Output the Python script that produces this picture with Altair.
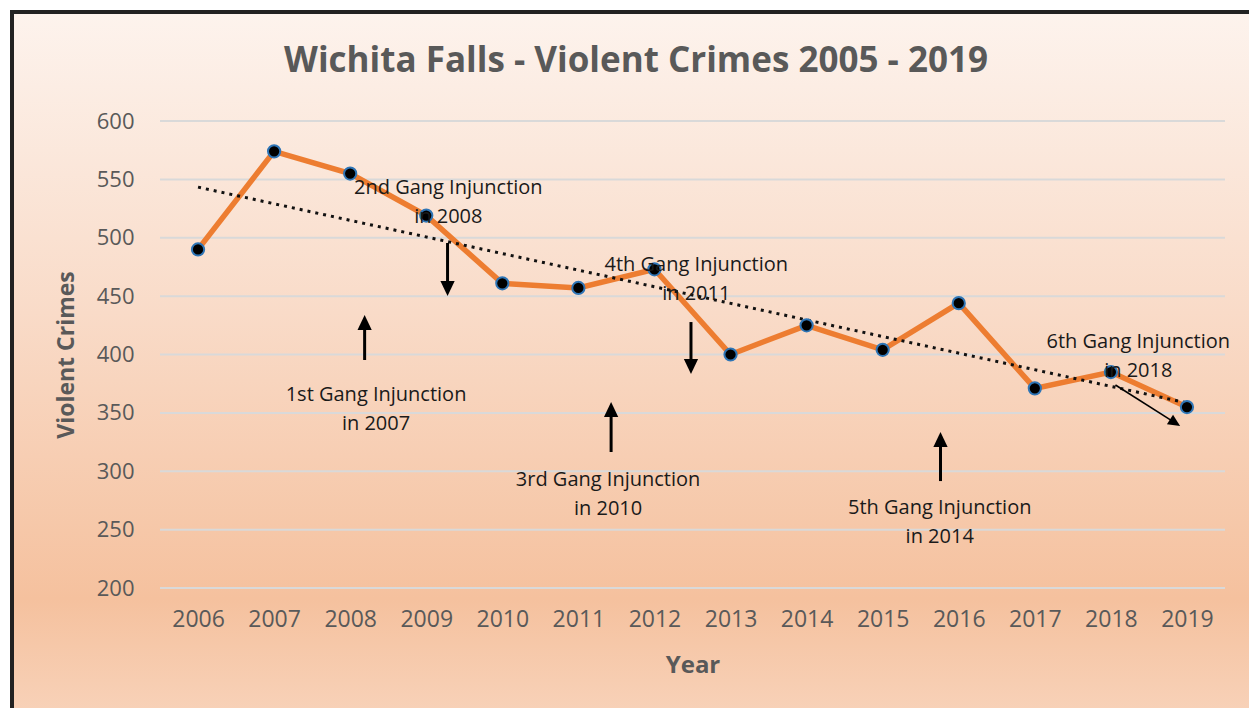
import altair as alt
import pandas as pd
import math

# ---- data ----
years = list(range(2006, 2020))
crimes = [490, 574, 555, 519, 461, 457, 473, 400, 425, 404, 444, 371, 385, 355]
y_ticks = [200, 250, 300, 350, 400, 450, 500, 550, 600]

ann_text = [
    "1st Gang Injunction\nin 2007",
    "2nd Gang Injunction\nin 2008",
    "3rd Gang Injunction\nin 2010",
    "4th Gang Injunction\nin 2011",
    "5th Gang Injunction\nin 2014",
    "6th Gang Injunction\nin 2018",
]
ann_x = [2008.34, 2009.29, 2011.39, 2012.55, 2015.75, 2018.36]
ann_y = [365.3, 542.6, 292.5, 476.7, 268.5, 410.7]

arrow_x = [2008.19, 2009.28, 2011.43, 2012.48, 2015.76, 2018.06]
arrow_y = [395.3, 495.5, 316.5, 427.8, 291.6, 373.9]
arrow_x2 = [2008.19, 2009.28, 2011.43, 2012.48, 2015.76, 2018.91]
arrow_y2 = [433.8, 450.1, 359.3, 383.3, 333.6, 338.8]
arrow_w = [3, 3, 3, 3, 3, 1.6]
head_len = [15, 15, 15, 15, 15, 12]

# ---- layout ----
W, H = 1065, 467
X_DOM = [2005.5, 2019.5]
Y_DOM = [200, 600]
pxx = W / (X_DOM[1] - X_DOM[0])
pxy = H / (Y_DOM[1] - Y_DOM[0])

FONT = "Open Sans"
GRAY = "#595959"

xs = alt.Scale(domain=X_DOM, nice=False, zero=False)
ys = alt.Scale(domain=Y_DOM, nice=False, zero=False)

df = pd.DataFrame({"year": years, "crimes": crimes})

# arrows: shafts end near the base of the head
rows = []
for i in range(len(arrow_x)):
    dx = (arrow_x2[i] - arrow_x[i]) * pxx
    dy = -(arrow_y2[i] - arrow_y[i]) * pxy
    L = math.hypot(dx, dy)
    f = (L - head_len[i] * 0.8) / L
    ang = math.degrees(math.atan2(dx, -dy)) % 360
    rows.append({
        "x": arrow_x[i], "y": arrow_y[i],
        "xe": arrow_x[i] + f * (arrow_x2[i] - arrow_x[i]),
        "ye": arrow_y[i] + f * (arrow_y2[i] - arrow_y[i]),
        "xt": arrow_x2[i], "yt": arrow_y2[i],
        "ang": ang, "w": arrow_w[i], "hs": head_len[i] ** 2,
    })
arr = pd.DataFrame(rows)

bg = alt.Chart(pd.DataFrame({"a": [0]})).mark_rect(
    color=alt.Gradient(
        gradient="linear",
        stops=[
            alt.GradientStop(color="#fdf3ed", offset=0),
            alt.GradientStop(color="#f9dbc8", offset=0.42),
            alt.GradientStop(color="#f5c19e", offset=0.82),
            alt.GradientStop(color="#f8d4bc", offset=1),
        ],
        x1=0, x2=0, y1=0, y2=1,
    ),
    stroke="#222222",
    strokeWidth=4,
).encode(
    x=alt.value(-148), x2=alt.value(1095), y=alt.value(-109), y2=alt.value(H + 140)
)

y_axis = alt.Axis(
    values=y_ticks, title="Violent Crimes", grid=False, ticks=False, domain=False,
    labelFont=FONT, labelFontSize=22, labelColor=GRAY, labelPadding=26,
    titleFont=FONT, titleFontSize=23, titleColor=GRAY, titleFontWeight="bold",
    titlePadding=18, zindex=1,
)
x_axis = alt.Axis(
    values=years, format="d", title="Year", grid=False, ticks=False, domain=False,
    labelFont=FONT, labelFontSize=23, labelColor=GRAY, labelPadding=20,
    titleFont=FONT, titleFontSize=24, titleColor=GRAY, titleFontWeight="bold",
    titlePadding=22, zindex=1,
)

grid = alt.Chart(pd.DataFrame({"t": y_ticks})).mark_rule(
    color="#d9d9d9", strokeWidth=2
).encode(y=alt.Y("t:Q", scale=ys, axis=y_axis))

line = alt.Chart(df).mark_line(color="#ED7D31", strokeWidth=5.5).encode(
    x=alt.X("year:Q", scale=xs, axis=x_axis),
    y=alt.Y("crimes:Q", scale=ys, axis=y_axis),
)

trend = alt.Chart(df).transform_regression("year", "crimes").mark_line(
    color="#111111", strokeWidth=3, strokeDash=[3, 5]
).encode(x=alt.X("year:Q", scale=xs), y=alt.Y("crimes:Q", scale=ys))

pts = alt.Chart(df).mark_point(
    filled=True, fill="#000000", stroke="#2e75b6", strokeWidth=2, size=150, opacity=1
).encode(x=alt.X("year:Q", scale=xs), y=alt.Y("crimes:Q", scale=ys))

ann = alt.Chart(pd.DataFrame({"t": ann_text, "x": ann_x, "y": ann_y})).mark_text(
    font=FONT, fontSize=20, color="#1a1a1a", lineBreak="\n", lineHeight=29,
    align="center", baseline="middle",
).encode(x=alt.X("x:Q", scale=xs), y=alt.Y("y:Q", scale=ys), text="t:N")

shafts = alt.Chart(arr).mark_rule(color="#000000").encode(
    x=alt.X("x:Q", scale=xs), y=alt.Y("y:Q", scale=ys),
    x2="xe:Q", y2="ye:Q",
    strokeWidth=alt.StrokeWidth("w:Q", scale=None),
)

heads = alt.Chart(arr).mark_point(
    shape="M0,0L-0.95,2L0.95,2Z", filled=True, color="#000000", opacity=1
).encode(
    x=alt.X("xt:Q", scale=xs), y=alt.Y("yt:Q", scale=ys),
    angle=alt.Angle("ang:Q", scale=None),
    size=alt.Size("hs:Q", scale=None),
)

title = alt.Chart(pd.DataFrame({"t": ["Wichita Falls - Violent Crimes 2005 - 2019"]})).mark_text(
    font=FONT, fontSize=35, fontWeight="bold", color=GRAY, align="center", baseline="middle"
).encode(x=alt.value(476), y=alt.value(-60), text="t:N")

chart = alt.layer(bg, grid, line, trend, pts, ann, shafts, heads, title).properties(
    width=W, height=H,
    autosize=alt.AutoSizeParams(type="none"),
    padding={"left": 152, "top": 113, "right": 24, "bottom": 120},
).configure_view(stroke=None)

chart.save("out.html", embed_options={"renderer": "svg", "actions": False})
